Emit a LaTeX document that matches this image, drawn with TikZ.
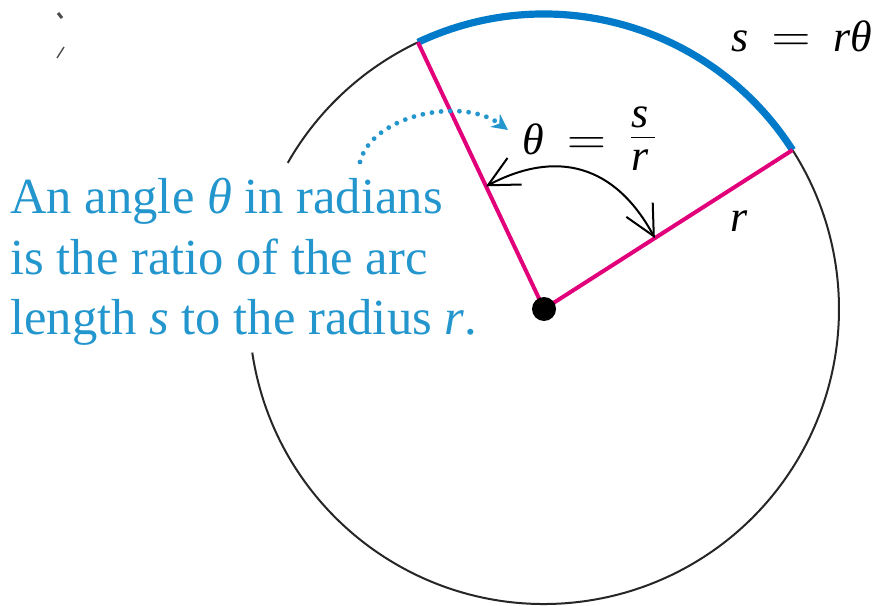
\documentclass[tikz,border=0pt]{standalone}
\usepackage{graphicx}
\usepackage{fontspec}
\setmainfont{Liberation Serif}
\usepackage{tikz}
\usetikzlibrary{calc,arrows.meta}
\definecolor{labelblue}{RGB}{35,150,205}
\definecolor{arcblue}{RGB}{0,122,201}
\definecolor{radiuspink}{RGB}{226,0,122}
\newcommand{\wideeq}{\mathrel{\scalebox{1.3}[1.15]{$=$}}}
\newcommand{\arcfrac}[2]{\raisebox{3.5pt}{$\frac{\makebox[12pt][l]{#1}\rule[-4.5pt]{0pt}{0pt}}{\rule{0pt}{16pt}\makebox[12pt][l]{#2}}$}}

\begin{document}
\begin{tikzpicture}[x=0.5pt,y=0.5pt,
    radiusline/.style={line width=2pt,radiuspink},
    circleline/.style={line width=1pt,black!85},
    bigfont/.style={font=\fontsize{22}{26}\selectfont}]
  \useasboundingbox (0,0) rectangle (882,605);
  \coordinate (O) at (544,296);
  \coordinate (A) at ($(O)+(115.3:295)$);
  \coordinate (B) at ($(O)+(32.6:295)$);
  \draw[circleline] (A) arc[start angle=115.3,end angle=150.3,radius=295];
  \draw[circleline] ($(O)+(188.5:295)$) arc[start angle=188.5,end angle=392.6,radius=295];
  \draw[line width=3.6pt,arcblue] (B) arc[start angle=32.6,end angle=115.3,radius=295];
  \draw[radiusline] (O) -- (A);
  \draw[radiusline] (O) -- (B);
  \node[circle,fill=black,minimum size=12pt,inner sep=0] (dot) at (O) {};
  \coordinate (tipL) at ($(O)!0.46!(A)$);
  \coordinate (tipR) at ($(O)!0.446!(B)$);
  \draw[line width=1pt,{Straight Barb[length=15pt,width=15pt]}-{Straight Barb[length=15pt,width=15pt]}]
    (tipL) .. controls +(70,37) and +(-40,74) .. (tipR);
  \node[bigfont,anchor=base west,inner sep=0] (arclen) at (731,553) {$\textit{s}\;\wideeq\;\textit{rθ}$};
  \node[bigfont,anchor=base west,inner sep=0] (ratio) at (522,450) {$\textit{θ}\;\wideeq\;\arcfrac{\textit{s}}{\textit{r}}$};
  \node[bigfont,anchor=base,inner sep=0] (rlabel) at (739,373) {\textit{r}};
  \node[labelblue,anchor=north west,align=left,inner sep=0,font=\fontsize{25.3}{30.2}\selectfont] (note) at (10,427)
    {An angle \textit{θ} in radians\\ is the ratio of the arc\\ length \textit{s} to the radius \textit{r}.};
  \coordinate (hint) at (360,443);
  \coordinate (hintend) at (508,475);
  \draw[labelblue,line width=2.4pt,line cap=round,dash pattern=on 0pt off 4.6pt,-{Stealth[length=8pt,width=8pt]}]
    (hint) .. controls (372,490) and (462,509) .. (hintend);
  \draw[black!70,line width=1.5pt] (58,592) -- (62,587);
  \draw[black!70,line width=0.7pt] (57,547) -- (64,558);
\end{tikzpicture}
\end{document}
